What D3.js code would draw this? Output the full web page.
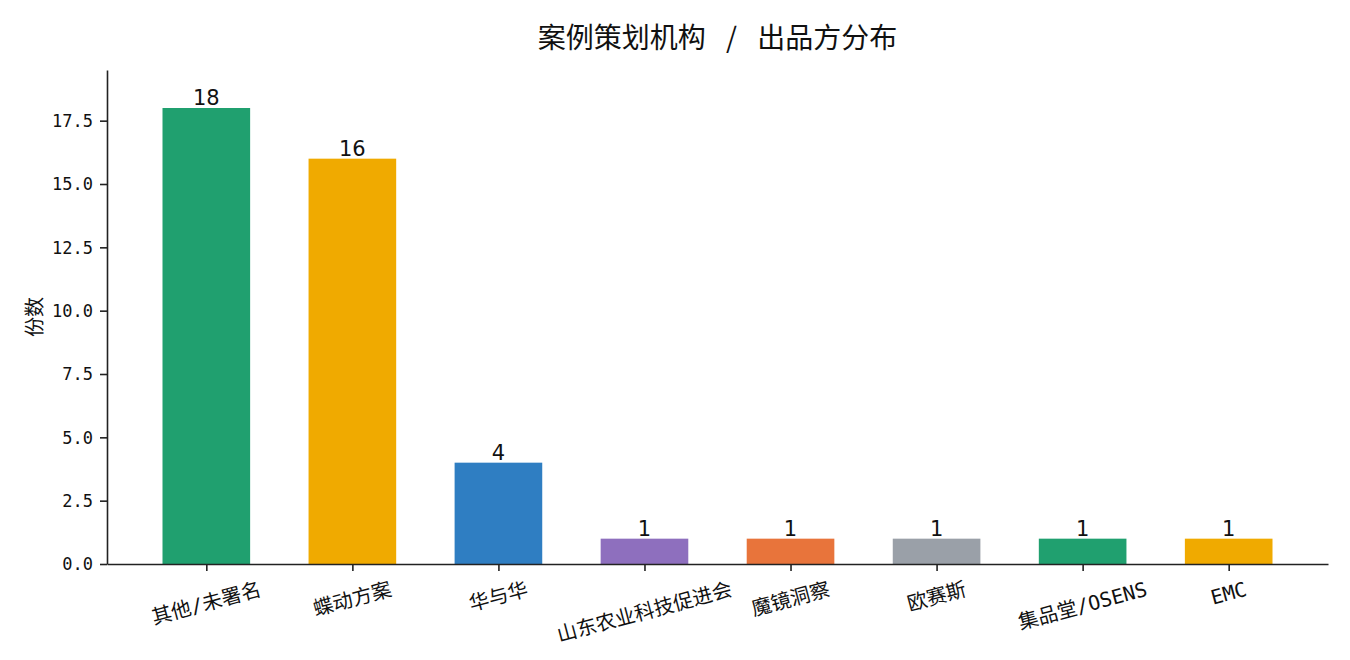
<!DOCTYPE html>
<html lang="zh">
<head>
<meta charset="UTF-8">
<title>案例策划机构 / 出品方分布</title>
<script src="https://cdn.jsdelivr.net/npm/d3@7"></script>
<style>
    body { margin: 0; background: #fff; }
    svg { display: block; }
    .axis path, .axis line { stroke: #222; stroke-width: 1.6px; }
    .ytick text { font-family: "DejaVu Sans Mono", monospace; font-size: 17px; fill: #111; }
    .xlabel { font-family: "DejaVu Sans Mono", "Noto Sans CJK SC", sans-serif; font-size: 20px; fill: #111; }
    .val { font-family: "DejaVu Sans", sans-serif; font-size: 21px; fill: #111; }
    .title { font-family: "Noto Sans CJK SC", sans-serif; font-size: 28px; fill: #111; word-spacing: 14px; }
    .ylab { font-family: "Noto Sans CJK SC", sans-serif; font-size: 20px; fill: #111; }
</style>
</head>
<body>
<script>
    const categories = ['其他/未署名', '蝶动方案', '华与华', '山东农业科技促进会', '魔镜洞察', '欧赛斯', '集品堂/OSENS', 'EMC'];
    const counts = [18, 16, 4, 1, 1, 1, 1, 1];
    const barColors = ['#20a06f', '#f0aa00', '#2f7ec2', '#8e6fbe', '#e8743b', '#9aa0a8', '#20a06f', '#f0aa00'];
    const yTicks = [0, 2.5, 5, 7.5, 10, 12.5, 15, 17.5];

    const w = 1350, h = 660;
    const plotL = 107, plotR = 1328, plotT = 70, plotB = 564;

    const svg = d3.select('body').append('svg')
        .attr('width', w)
        .attr('height', h);

    // bar positions like matplotlib: index domain with margins
    const xScale = d3.scaleLinear()
        .domain([-0.68, categories.length - 1 + 0.68])
        .range([plotL, plotR]);
    const step = xScale(1) - xScale(0);
    const barW = step * 0.6;

    const yScale = d3.scaleLinear()
        .domain([0, 19.5])
        .range([plotB, plotT]);

    svg.selectAll('rect.bar')
        .data(counts)
        .enter()
        .append('rect')
        .attr('class', 'bar')
        .attr('x', (d, i) => xScale(i) - barW / 2)
        .attr('y', d => yScale(d))
        .attr('width', barW)
        .attr('height', d => plotB - yScale(d))
        .attr('fill', (d, i) => barColors[i]);

    svg.selectAll('text.val')
        .data(counts)
        .enter()
        .append('text')
        .attr('class', 'val')
        .attr('x', (d, i) => xScale(i))
        .attr('y', d => yScale(d) - 3)
        .attr('text-anchor', 'middle')
        .text(d => d);

    // y axis
    const yAxis = d3.axisLeft(yScale)
        .tickValues(yTicks)
        .tickFormat(d3.format('.1f'))
        .tickSize(7)
        .tickPadding(7)
        .tickSizeOuter(0);
    svg.append('g')
        .attr('class', 'axis ytick')
        .attr('transform', `translate(${plotL},0)`)
        .call(yAxis)
        .call(g => g.selectAll('text').attr('dy', '0.35em'));

    // x axis (ticks only, labels drawn rotated below)
    const xAxis = d3.axisBottom(xScale)
        .tickValues(d3.range(categories.length))
        .tickFormat('')
        .tickSize(7)
        .tickSizeOuter(0);
    svg.append('g')
        .attr('class', 'axis')
        .attr('transform', `translate(0,${plotB})`)
        .call(xAxis);

    const ang = 15 * Math.PI / 180;
    svg.selectAll('text.xlabel')
        .data(categories)
        .enter()
        .append('text')
        .attr('class', 'xlabel')
        .attr('text-anchor', 'middle')
        .attr('dominant-baseline', 'central')
        .text(d => d)
        .each(function (d, i) {
            const tw = this.getComputedTextLength();
            const boxH = tw * Math.sin(ang) + 22 * Math.cos(ang);
            const cx = xScale(i);
            const cy = plotB + 14 + boxH / 2;
            d3.select(this)
                .attr('x', cx)
                .attr('y', cy)
                .attr('transform', `rotate(-15,${cx},${cy})`);
        });

    svg.append('text')
        .attr('class', 'title')
        .attr('x', (plotL + plotR) / 2)
        .attr('y', 48)
        .attr('text-anchor', 'middle')
        .text('案例策划机构 / 出品方分布');

    svg.append('text')
        .attr('class', 'ylab')
        .attr('transform', `translate(42,${(plotT + plotB) / 2}) rotate(-90)`)
        .attr('text-anchor', 'middle')
        .text('份数');
</script>
</body>
</html>
